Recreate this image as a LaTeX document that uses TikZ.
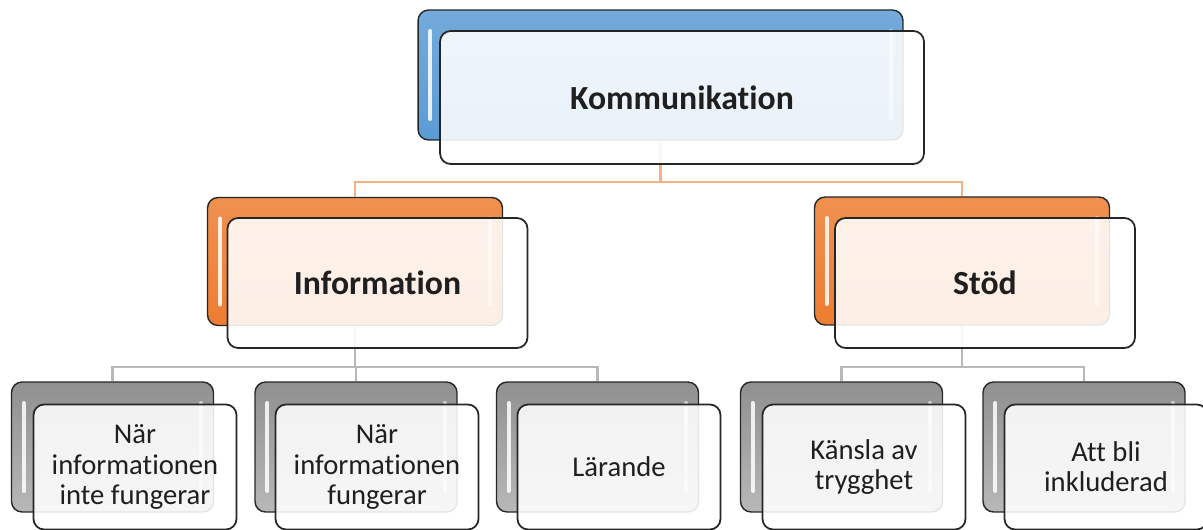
\documentclass[tikz,border=0pt]{standalone}
\usepackage{fontspec}
\setmainfont[Ligatures={NoCommon}]{Carlito}
\usetikzlibrary{calc,positioning}
\definecolor{kblue}{RGB}{91,155,213}
\definecolor{korange}{RGB}{237,125,49}
\definecolor{kgrey}{RGB}{160,160,160}
\tikzset{
  % glans-strimmor i bakre rutor
  gloss/.style={path picture={
    \draw[white,line width=2.4pt,line cap=round,opacity=.85]
      ([xshift=7pt,yshift=-12pt]path picture bounding box.north west) -- ([xshift=7pt,yshift=12pt]path picture bounding box.south west);
    \draw[white,line width=2.4pt,line cap=round,opacity=.6]
      ([xshift=-7pt,yshift=-12pt]path picture bounding box.north east) -- ([xshift=-7pt,yshift=12pt]path picture bounding box.south east);}},
  back/.style={draw=black!85,line width=0.8pt,rounded corners=6pt,inner sep=0pt,gloss},
  back-b/.style={back,top color=kblue!85!white,bottom color=kblue,minimum width=9.7cm,minimum height=2.6cm},
  back-o/.style={back,top color=korange!85!white,bottom color=korange,minimum width=5.9cm,minimum height=2.56cm},
  back-g/.style={back,top color=kgrey!90!black,bottom color=kgrey!75!white,minimum width=4.04cm,minimum height=2.6cm},
  % framre rutor
  front/.style={draw=black!85,line width=1pt,rounded corners=6pt,fill=white,fill opacity=.88,text opacity=1,text=black!88,align=center},
  front-top/.style={front,minimum width=9.68cm,minimum height=2.66cm,font=\fontsize{19.2}{23}\selectfont\bfseries},
  front-mid/.style={front,minimum width=6cm,minimum height=2.6cm,font=\fontsize{19.2}{23}\selectfont\bfseries},
  front-leaf/.style={front,minimum width=4.06cm,minimum height=2.5cm,font=\fontsize{16.3}{17.1}\selectfont},
  % kantar
  link-o/.style={draw=korange!60!white,line width=1.3pt},
  link-g/.style={draw=black!28,line width=1.3pt},
}
\begin{document}
\begin{tikzpicture}[x=0.02cm,y=-0.02cm]
  \useasboundingbox (0,0) rectangle (1203,530);
  % bakre rutor
  \node[back-b] (komB) at (660.5,75) {};
  \node[back-o] (infB) at (355,261.5) {};
  \node[back-o] (stoB) at (962,261) {};
  \node[back-g] (l1B) at (112.5,447) {};
  \node[back-g] (l2B) at (356,447) {};
  \node[back-g] (l3B) at (597.5,447) {};
  \node[back-g] (l4B) at (841.5,447) {};
  \node[back-g] (l5B) at (1084,447) {};
  % kantar
  \draw[link-o] (komB.south) -- ++(0,41) -| (infB.north);
  \draw[link-o] (komB.south) -- ++(0,41) -| (stoB.north);
  \draw[link-g] (infB.south) -- ++(0,41) -| (l1B.north);
  \draw[link-g] (infB.south) -- ++(0,41) -| (l2B.north);
  \draw[link-g] (infB.south) -- ++(0,41) -| (l3B.north);
  \draw[link-g] (stoB.south) -- ++(0,41) -| (l4B.north);
  \draw[link-g] (stoB.south) -- ++(0,41) -| (l5B.north);
  % framre rutor
  \node[front-top] (kom) at (682,97.5) {Kommunikation};
  \node[front-mid] (inf) at (377.5,283) {Information};
  \node[front-mid] (sto) at (985,283) {Stöd};
  \node[front-leaf] (l1) at (135,467) {När\\informationen\\inte fungerar};
  \node[front-leaf] (l2) at (377,467) {När\\informationen\\fungerar};
  \node[front-leaf] (l3) at (619,467) {Lärande};
  \node[front-leaf] (l4) at (864,467) {Känsla av\\trygghet};
  \node[front-leaf] (l5) at (1106,467) {Att bli\\inkluderad};
\end{tikzpicture}
\end{document}
